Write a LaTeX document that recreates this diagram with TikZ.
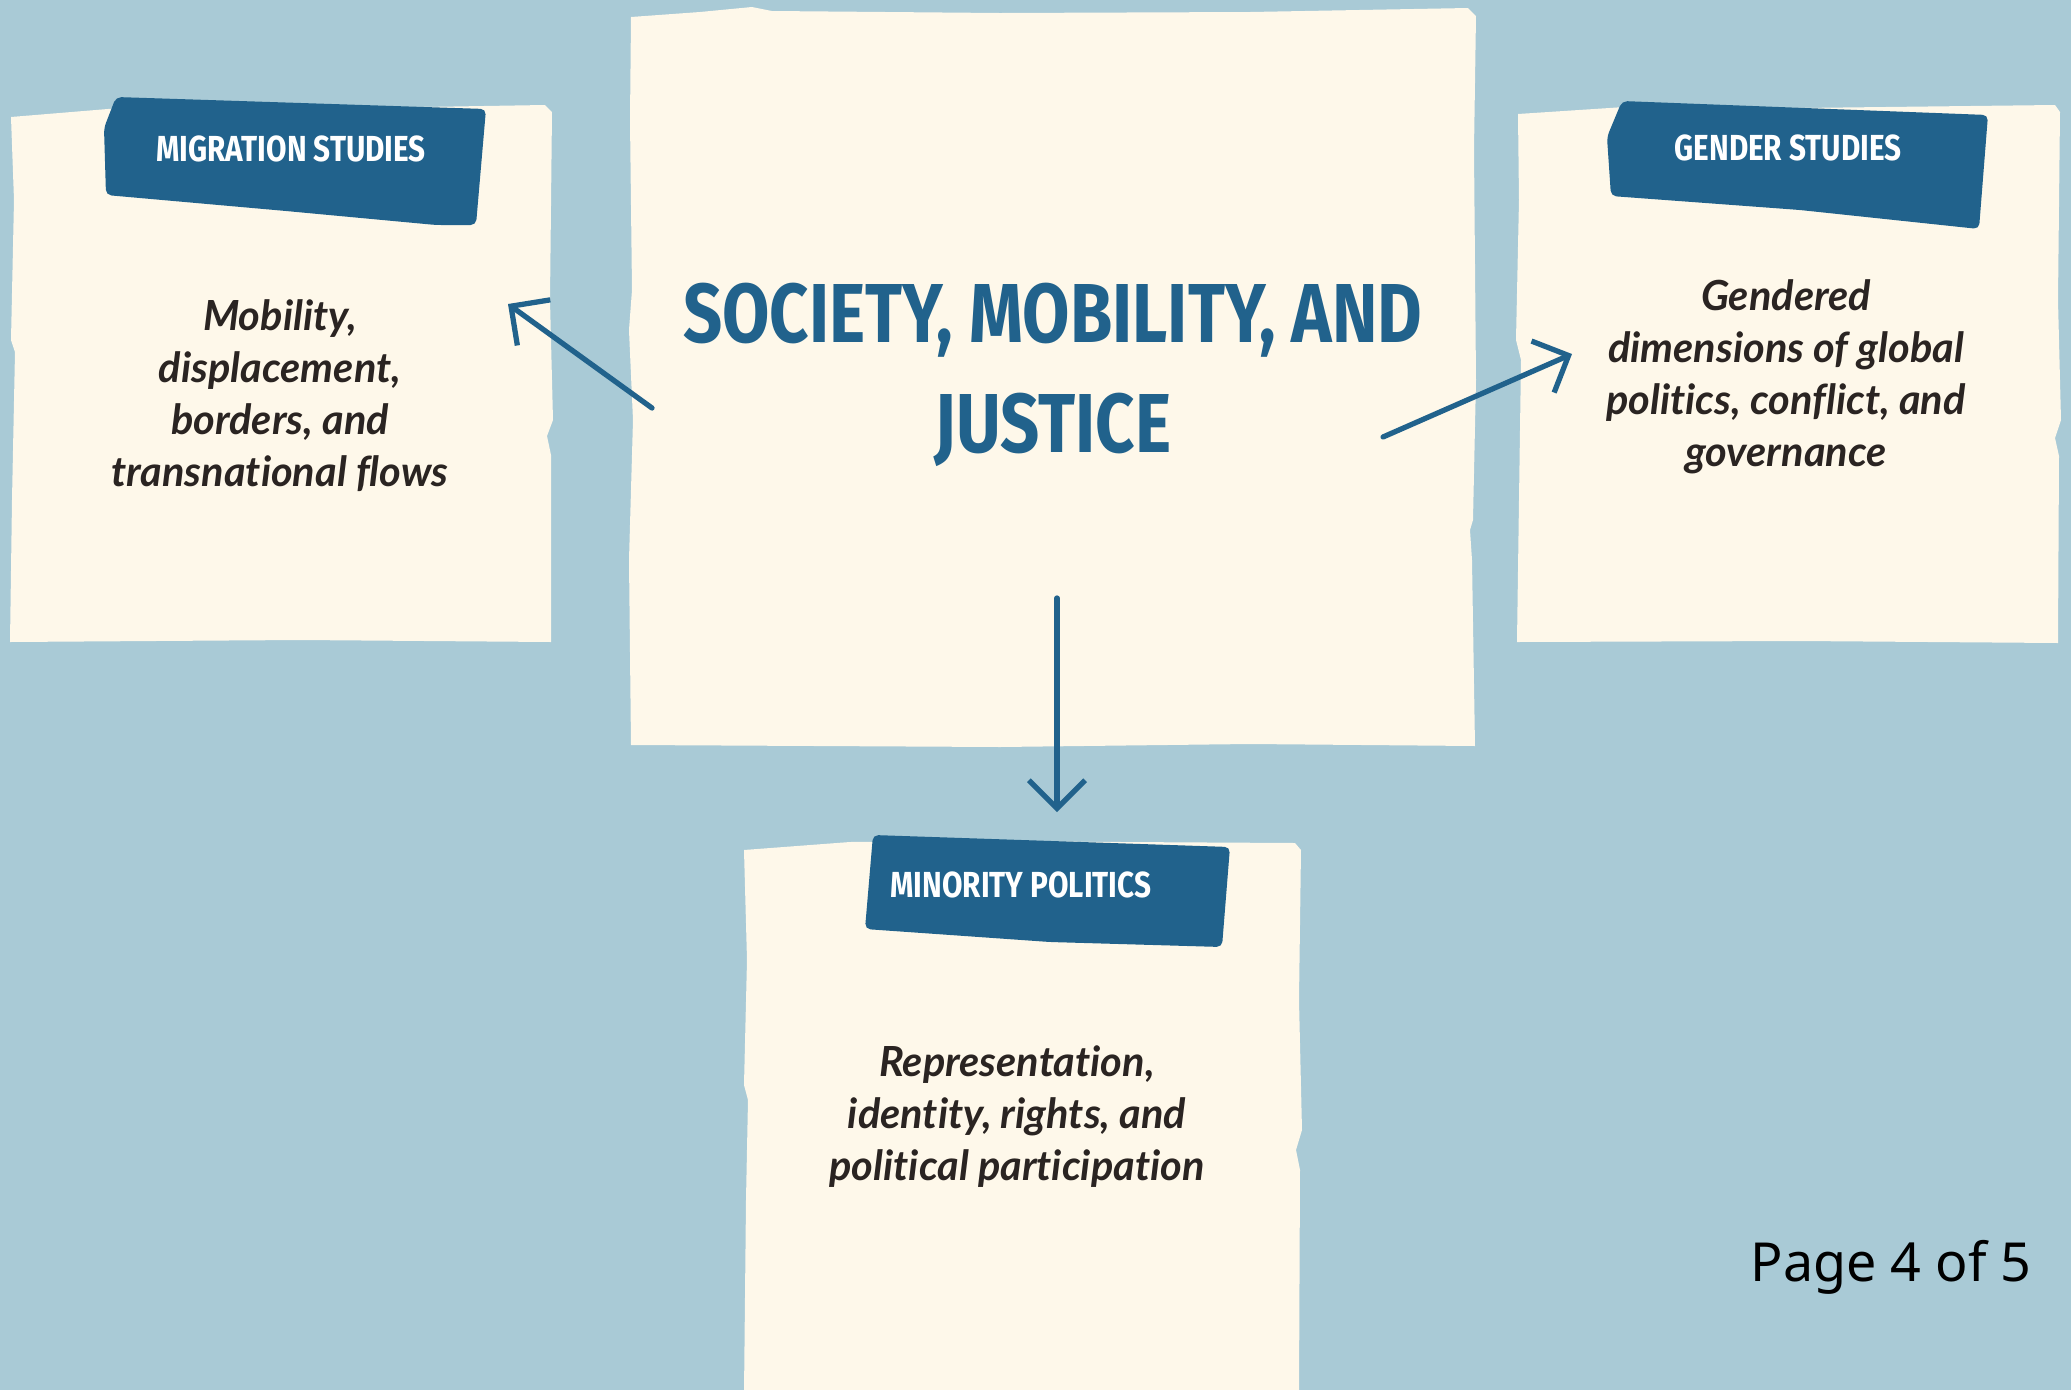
\documentclass[tikz,border=0pt]{standalone}
\usepackage{fontspec}
\usetikzlibrary{arrows.meta}
\newfontfamily\headfont{Fira Sans}[FakeStretch=0.82]
\newfontfamily\bodyfont{Lato}[Ligatures=NoCommon]
\newfontfamily\pagefont{Noto Sans}
\definecolor{bgblue}{HTML}{A9CAD6}
\definecolor{paperwhite}{HTML}{FEF8EA}
\definecolor{inkblue}{HTML}{21628C}
\definecolor{inkdark}{HTML}{2A2422}

\begin{document}
\begin{tikzpicture}[x=0.01cm, y=-0.01cm,
		paper/.style={fill=paperwhite},
		tab/.style={fill=inkblue, rounded corners=1.5pt},
		tabtext/.style={text=white, font=\headfont\bfseries\fontsize{10.3}{12}\selectfont},
		bodytext/.style={text=inkdark, align=center, font=\bodyfont\bfseries\itshape\fontsize{11.8}{14.8}\selectfont},
		arr/.style={draw=inkblue, line width=1.5pt, line cap=round, -{Straight Barb[length=8pt,width=16pt]}}]

		\useasboundingbox (0,0) rectangle (2071,1390);
		\fill[bgblue] (0,0) rectangle (2071,1390);

		% papers
		\fill[paper] (631,17) -- (700,12) -- (752,7) -- (772,11) -- (1000,13) -- (1250,12) -- (1468,8) -- (1476,16) -- (1474,150) -- (1476,380) -- (1473,520) -- (1470,530) -- (1472,560) -- (1475,746) -- (1250,744) -- (1000,747) -- (631,745) -- (629,560) -- (633,420) -- (629,330) -- (632,290) -- (630,120) -- cycle;
		\fill[paper] (11,117) -- (120,108) -- (300,109) -- (545,105) -- (552,112) -- (550,300) -- (553,420) -- (547,436) -- (551,455) -- (551,642) -- (300,640) -- (10,642) -- (12,500) -- (15,352) -- (11,340) -- (14,200) -- cycle;
		\fill[paper] (1518,114) -- (1640,106) -- (1800,108) -- (2055,105) -- (2060,112) -- (2058,300) -- (2061,420) -- (2055,438) -- (2059,456) -- (2058,643) -- (1800,641) -- (1517,642) -- (1519,500) -- (1521,360) -- (1516,340) -- (1519,200) -- cycle;
		\fill[paper] (744,850) -- (850,842) -- (950,841) -- (1295,843) -- (1301,850) -- (1299,1000) -- (1302,1130) -- (1296,1150) -- (1300,1170) -- (1299,1395) -- (744,1395) -- (746,1200) -- (748,1100) -- (744,1085) -- (747,960) -- cycle;

		% tabs
		\fill[tab] (116,97) -- (486,109) -- (476,225) -- (436,225) -- (286,211) -- (106,195) -- (104,128) -- cycle;
		\fill[tab] (1622,101) -- (1988,115) -- (1979,229) -- (1800,210) -- (1611,196) -- (1607,137) -- cycle;
		\fill[tab] (873,835) -- (1230,847) -- (1222,947) -- (1050,942) -- (865,929) -- cycle;

		\node[tabtext] (migtab) at (291,149) {MIGRATION STUDIES};
		\node[tabtext] (gentab) at (1788,148) {GENDER STUDIES};
		\node[tabtext] (mintab) at (1021,885) {MINORITY POLITICS};

		\node[text=inkblue, align=center, font=\headfont\bfseries\fontsize{23.8}{31.3}\selectfont] (title) at (1053,375) {SOCIETY, MOBILITY, AND\\JUSTICE};

		\node[bodytext] (migbody) at (280,396) {Mobility,\\displacement,\\borders, and\\transnational flows};
		\node[bodytext] (genbody) at (1786,377) {Gendered\\dimensions of global\\politics, conflict, and\\governance};
		\node[bodytext] (minbody) at (1017,1117) {Representation,\\identity, rights, and\\political participation};

		\node[font=\pagefont\fontsize{15.3}{18}\selectfont] (page) at (1891,1267) {Page 4 of 5};

		% arrows
		\coordinate (cl) at (652,408);
		\coordinate (ml) at (508,304);
		\coordinate (cr) at (1383,437);
		\coordinate (gr) at (1572,354);
		\coordinate (cb) at (1057,598);
		\coordinate (mb) at (1057,812);

		\draw[arr] (cl) -- (ml);
		\draw[arr] (cr) -- (gr);
		\draw[arr] (cb) -- (mb);
\end{tikzpicture}
\end{document}
